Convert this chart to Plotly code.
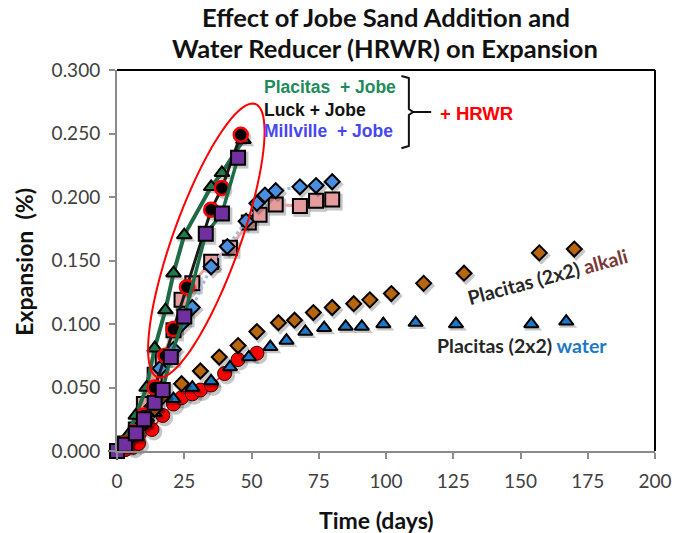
import numpy as np
import plotly.graph_objects as go

# ---- data: days vs expansion (%) ----
pink_days = [0, 3, 7, 10, 14, 17, 21, 24, 28, 35, 42, 49, 53, 59, 68, 74, 80]
pink_vals = [0, 0.006, 0.017, 0.037, 0.060, 0.074, 0.095, 0.119, 0.132, 0.149, 0.160, 0.180, 0.186, 0.194, 0.193, 0.197, 0.198]

bdia_days = [0, 3, 7, 10, 13, 16, 21, 24, 28, 35, 41, 48, 52, 55, 59, 68, 74, 80]
bdia_vals = [0, 0.005, 0.014, 0.025, 0.035, 0.065, 0.080, 0.100, 0.113, 0.145, 0.161, 0.181, 0.195, 0.2015, 0.205, 0.208, 0.209, 0.212]

red_days = [0, 3, 6, 8, 13, 17, 21, 24, 28, 31, 35, 40, 45, 52]
red_vals = [0, 0.001, 0.003, 0.006, 0.017, 0.028, 0.037, 0.042, 0.045, 0.048, 0.052, 0.061, 0.072, 0.077]

water_days = [0, 3, 6, 10, 14, 21, 28, 35, 42, 49, 57, 63, 70, 77, 85, 91, 99, 111, 126, 154, 167]
water_vals = [0, 0.005, 0.014, 0.022, 0.030, 0.041, 0.050, 0.055, 0.066, 0.074, 0.082, 0.087, 0.094, 0.097, 0.098, 0.098, 0.100, 0.101, 0.100, 0.100, 0.102]

alkali_days = [0, 3, 5, 8, 11, 14, 17, 24, 31, 38, 45, 52, 60, 66, 73, 80, 88, 94, 102, 114, 129, 157, 170]
alkali_vals = [0, 0.007, 0.012, 0.018, 0.024, 0.033, 0.043, 0.053, 0.063, 0.074, 0.083, 0.094, 0.101, 0.103, 0.109, 0.113, 0.116, 0.119, 0.124, 0.132, 0.140, 0.156, 0.159]

placitas_jobe_days = [0, 4, 7, 11, 14, 18, 21, 25, 35, 39, 47]
placitas_jobe_vals = [0, 0.012, 0.028, 0.050, 0.081, 0.111, 0.140, 0.170, 0.208, 0.219, 0.245]

luck_jobe_days = [0, 3, 7, 10, 14, 18, 21, 26, 35, 39, 46]
luck_jobe_vals = [0, 0.006, 0.015, 0.028, 0.050, 0.075, 0.096, 0.129, 0.190, 0.207, 0.249]

millville_jobe_days = [0, 3, 7, 10, 14, 17, 20, 25, 33, 39, 45]
millville_jobe_vals = [0, 0.005, 0.014, 0.025, 0.038, 0.048, 0.074, 0.106, 0.171, 0.187, 0.231]

x_ticks = [0, 25, 50, 75, 100, 125, 150, 175, 200]
y_ticks = [0, 0.05, 0.10, 0.15, 0.20, 0.25, 0.30]

W, H = 684, 533
ML, MR, MT, MB = 117, 19, 70, 82
XMAX, YMAX = 200, 0.3

CAL = "Lato, Open Sans, sans-serif"
ARI = "Liberation Sans, Arial, sans-serif"

pw = W - ML - MR
ph = H - MT - MB
# soft drop-shadow offset under each marker (in pixels)
SHX, SHY = 2.0, 2.5

fig = go.Figure()

def add(x, y, mode, symbol, size, fill, outline, ow, line=None):
    sx = [v + SHX / pw * XMAX for v in x]
    sy = [v - SHY / ph * YMAX for v in y]
    fig.add_trace(go.Scatter(
        x=sx, y=sy, mode="markers", cliponaxis=False, showlegend=False, hoverinfo="skip",
        marker=dict(symbol=symbol, size=size + 3, color="rgba(0,0,0,0.22)",
                    line=dict(width=0))))
    fig.add_trace(go.Scatter(
        x=x, y=y, mode=mode, cliponaxis=False, showlegend=False,
        marker=dict(symbol=symbol, size=size, color=fill,
                    line=dict(color=outline, width=ow)),
        line=line or dict(width=0)))

add(pink_days, pink_vals, "lines+markers", "square", 14, "#E59C9C", "#000", 2,
    dict(color="#E8A3A3", width=3))
add(bdia_days, bdia_vals, "lines+markers", "diamond", 11.5, "#4A8FDF", "#000", 2,
    dict(color="#9DBDE6", width=3, dash="dot"))
add(red_days, red_vals, "lines+markers", "circle", 14, "#FF0000", "#300", 1,
    dict(color="#FF0000", width=1.5))
add(water_days, water_vals, "markers", "triangle-up", 12.5, "#1E78C8", "#000", 2)
add(alkali_days, alkali_vals, "markers", "diamond", 11.5, "#B8660E", "#000", 2)
add(placitas_jobe_days, placitas_jobe_vals, "lines+markers", "triangle-up", 13, "#1F7A4C", "#000", 2,
    dict(color="#1E6B45", width=4))
add(luck_jobe_days, luck_jobe_vals, "lines+markers", "circle", 14, "#000000", "#FF0000", 2.5,
    dict(color="#1A1A1A", width=3))
add(millville_jobe_days, millville_jobe_vals, "lines+markers", "square", 14, "#7030A0", "#000", 2,
    dict(color="#1E6B45", width=3.5))

def to_data(px, py):
    return (px - ML) / pw * XMAX, (MT + ph - py) / ph * YMAX

def to_paper(px, py):
    return (px - ML) / pw, (MT + ph - py) / ph

# tilted ellipse around the HRWR group, laid out in pixel space then mapped to data
p0 = np.array([158.0, 377.0])
p1 = np.array([258.0, 104.0])
c = (p0 + p1) / 2
u = (p1 - p0) / np.linalg.norm(p1 - p0)
v = np.array([-u[1], u[0]])
a = np.linalg.norm(p1 - p0) / 2
b = 34.0
t = np.linspace(0, 2 * np.pi, 90)
pts = [c + a * np.cos(tt) * u + b * np.sin(tt) * v for tt in t]
path = "M " + " L ".join("{:.4f},{:.5f}".format(*to_data(px, py)) for px, py in pts) + " Z"
fig.add_shape(type="path", path=path, xref="x", yref="y",
              line=dict(color="#FF0000", width=2))

# bracket next to the HRWR labels
bx = [406.7, 414.3, 414.3, 418.5, 414.3, 414.3, 406.7]
by = [76, 78, 109, 112, 115, 146, 148.3]
br = "M " + " L ".join("{:.4f},{:.5f}".format(*to_data(px, py)) for px, py in zip(bx, by))
fig.add_shape(type="path", path=br, xref="x", yref="y", line=dict(color="#111", width=2))
hx0, hy = to_data(418.5, 112)
hx1, _ = to_data(437, 112)
fig.add_shape(type="line", x0=hx0, x1=hx1, y0=hy, y1=hy, xref="x", yref="y",
              line=dict(color="#111", width=2))

# top and right frame
fig.add_shape(type="line", xref="paper", yref="paper", x0=0, x1=1, y0=1, y1=1,
              line=dict(color="#000", width=2))
fig.add_shape(type="line", xref="paper", yref="paper", x0=1, x1=1, y0=0, y1=1,
              line=dict(color="#000", width=2))

def note(text, px, py, color, size, font, xanchor="left", angle=0):
    x, y = to_paper(px, py)
    fig.add_annotation(x=x, y=y, xref="paper", yref="paper", text=text, showarrow=False,
                       xanchor=xanchor, yanchor="middle", textangle=angle,
                       font=dict(family=font, size=size, color=color))

note("<b>Effect of Jobe Sand Addition and</b>", 391, 17, "#111", 25.5, CAL, "center")
note("<b>Water Reducer (HRWR) on Expansion</b>", 390, 48, "#111", 25.5, CAL, "center")
note("<b>Time (days)</b>", 381, 520, "#111", 23, CAL, "center")
note("<b>Expansion  (%)</b>", 22, 262, "#111", 23, CAL, "center", -90)

note("<b>Placitas  + Jobe</b>", 265, 87, "#1E8C5A", 17.5, ARI)
note("<b>Luck + Jobe</b>", 265, 110, "#111111", 17.5, ARI)
note("<b>Millville  + Jobe</b>", 265, 131, "#4646F2", 17.5, ARI)
note("<b>+ HRWR</b>", 444, 113, "#FF0000", 18.5, ARI)
note("<b>Placitas (2x2) <span style='color:#7A3838'>alkali</span></b>", 556, 276,
     "#262626", 19.5, CAL, "center", -15)
note("<b>Placitas (2x2) <span style='color:#1E78C8'>water</span></b>", 530, 345,
     "#262626", 19.5, CAL, "center")

fig.update_layout(
    width=W, height=H,
    margin=dict(l=ML, r=MR, t=MT, b=MB),
    paper_bgcolor="white", plot_bgcolor="white",
    xaxis=dict(range=[0, XMAX], tickvals=x_ticks, showgrid=False, zeroline=False,
               showline=True, linecolor="#8C8C8C", linewidth=2,
               ticks="outside", tickcolor="#8C8C8C", ticklen=6, tickwidth=2,
               ticklabelstandoff=6,
               tickfont=dict(family=CAL, size=19, color="#404040")),
    yaxis=dict(range=[0, YMAX], tickvals=y_ticks, tickformat=".3f", showgrid=False,
               zeroline=False, showline=True, linecolor="#8C8C8C", linewidth=2,
               ticks="outside", tickcolor="#8C8C8C", ticklen=6, tickwidth=2,
               ticklabelstandoff=5,
               tickfont=dict(family=CAL, size=19, color="#404040")),
)

fig.write_html("out.html")
